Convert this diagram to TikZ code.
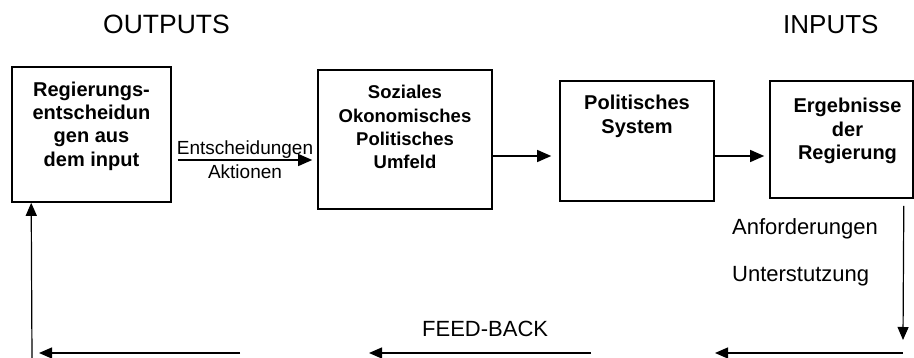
\documentclass[tikz,border=0pt]{standalone}
\usepackage{fontspec}
\setmainfont{Liberation Sans}
\usetikzlibrary{arrows.meta, positioning}

\tikzset{
  sysbox/.style={draw, line width=1.6pt, inner sep=0pt},
  boxtxt/.style={font=\fontsize{20}{23.3}\selectfont\bfseries, align=center, inner sep=0pt, anchor=north},
  plain/.style={inner sep=0pt, anchor=base west},
  arr/.style={line width=1.2pt, -{Triangle[length=14pt,width=12pt]}},
  fbarr/.style={line width=1.2pt, -{Triangle[length=13pt,width=11pt]}},
}

\begin{document}
\begin{tikzpicture}[x=1pt, y=-1pt]
  \useasboundingbox (0,0) rectangle (914,358);
  % Headings
  \node[plain, font=\fontsize{26.5}{30}\selectfont] (outp) at (103,34) {OUTPUTS};
  \node[plain, font=\fontsize{26}{30}\selectfont] (inp) at (783,34) {INPUTS};
  % Boxes
  \node[sysbox, minimum width=159pt, minimum height=135pt] (rd) at (91.5,134.5) {};
  \node[sysbox, minimum width=174pt, minimum height=139pt] (so) at (405,139.5) {};
  \node[sysbox, minimum width=154pt, minimum height=120pt] (py) at (637,141) {};
  \node[sysbox, minimum width=143pt, minimum height=117pt] (eg) at (841.5,139.5) {};
  \node[boxtxt] (rdtxt) at ([yshift=-15.5pt]rd.north) {Regierungs-\\entscheidun\\gen aus\\dem input};
  \node[boxtxt, font=\fontsize{18.5}{23.3}\selectfont\bfseries] (sotxt) at ([yshift=-16pt]so.north) {Soziales\\Okonomisches\\Politisches\\Umfeld};
  \node[boxtxt] (pytxt) at ([yshift=-15pt]py.north) {Politisches\\System};
  \node[boxtxt] (egtxt) at ([xshift=6pt,yshift=-18pt]eg.north) {Ergebnisse\\der\\Regierung};
  % Forward arrows
  \draw[arr] ([xshift=6pt,yshift=-25.5pt]rd.east) -- ([xshift=-5pt,yshift=-20.5pt]so.west)
    node[midway, above, inner sep=1pt, font=\fontsize{19}{22}\selectfont] (ent) {Entscheidungen}
    node[midway, below, inner sep=4pt, font=\fontsize{19}{22}\selectfont] (akt) {Aktionen};
  \draw[arr] ([yshift=-16.5pt]so.east) -- ([xshift=-8pt,yshift=-15pt]py.west);
  \draw[arr] ([yshift=-15pt]py.east) -- ([xshift=-5pt,yshift=-16.5pt]eg.west);
  % Feed-back loop
  \coordinate (d1) at (903,340);
  \coordinate (b1) at (903,353);
  \coordinate (b2) at (715,353);
  \coordinate (b3) at (591,353);
  \coordinate (b4) at (369,353);
  \coordinate (b5) at (240,353);
  \coordinate (b6) at (39,353);
  \coordinate (b7) at (32,358);
  \draw[fbarr] ([xshift=-10pt,yshift=-7pt]eg.south east) -- (d1);
  \draw[fbarr] (b1) -- (b2);
  \draw[fbarr] (b3) -- (b4);
  \draw[fbarr] (b5) -- (b6);
  \draw[fbarr] (b7) -- ([xshift=20pt]rd.south west);
  % Labels
  \node[plain, font=\fontsize{22}{26}\selectfont] (anf) at (732,235) {Anforderungen};
  \node[plain, font=\fontsize{22}{26}\selectfont] (unt) at (732,282) {Unterstutzung};
  \node[plain, font=\fontsize{22}{26}\selectfont] (fb) at (422,337) {FEED-BACK};
\end{tikzpicture}
\end{document}
